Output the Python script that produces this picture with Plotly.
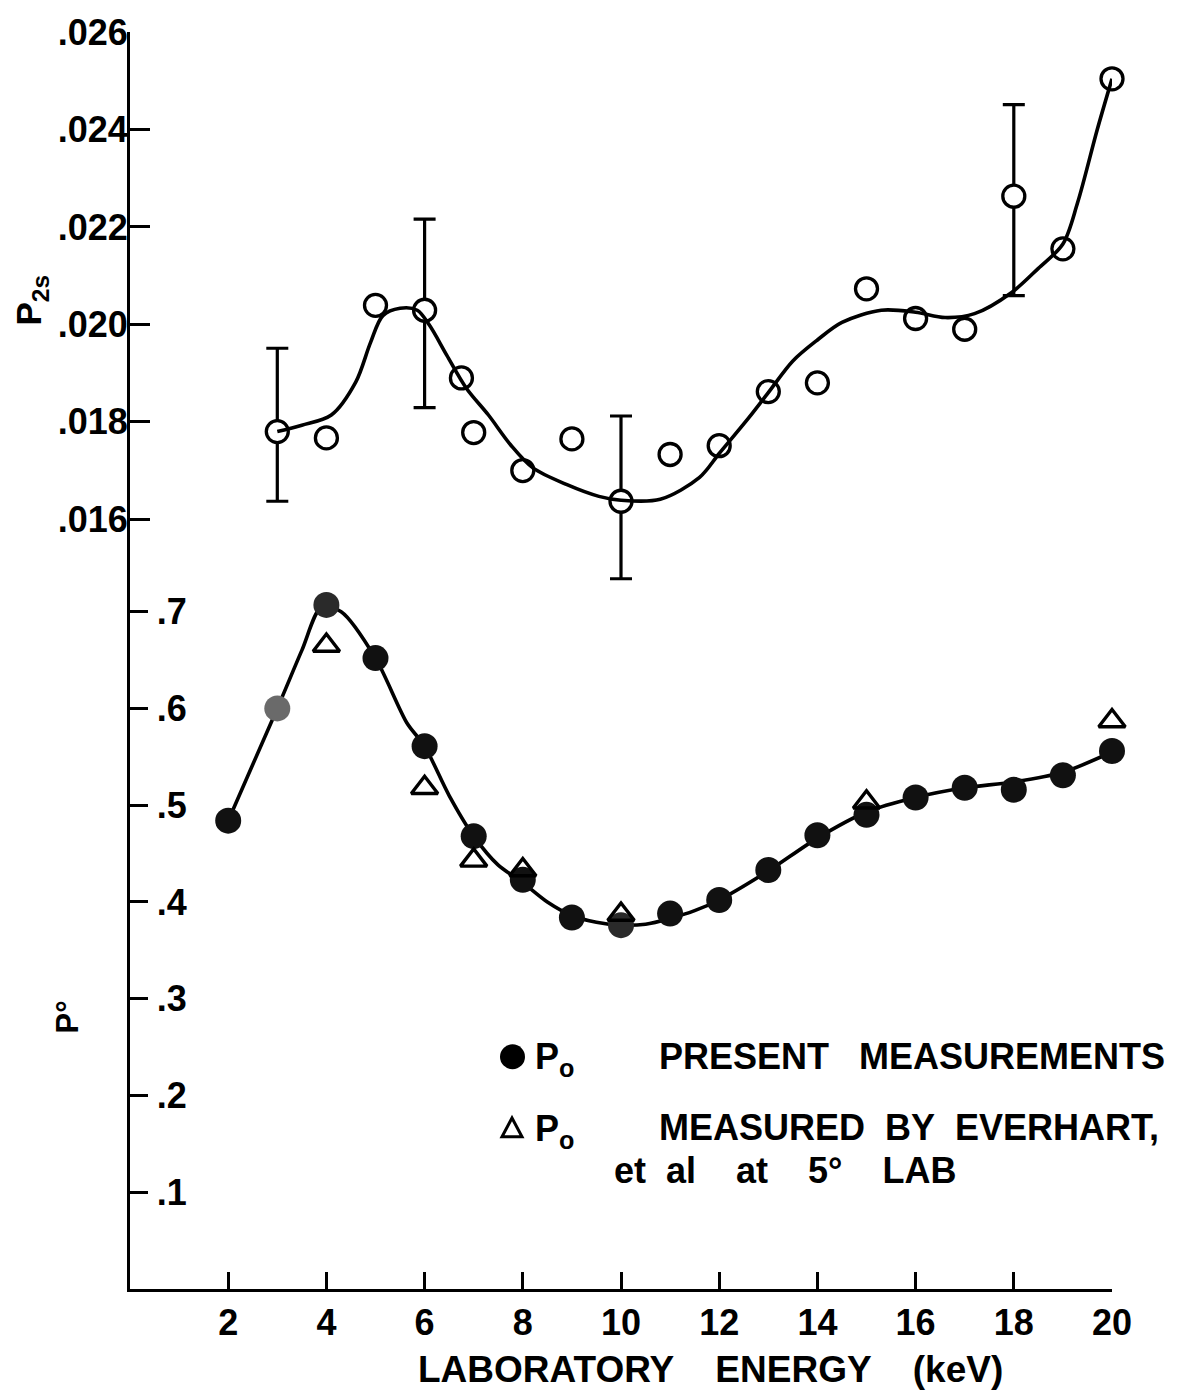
import plotly.graph_objects as go

# ---------------- data ----------------
# Upper panel: P2s, open circles
p2s_energy = [3, 4, 5, 6, 6.75, 7, 8, 9, 10, 11, 12, 13, 14, 15, 16, 17, 18, 19, 20]
p2s_value = [0.01780, 0.01767, 0.02039, 0.02029, 0.01890, 0.01778, 0.01700, 0.01765,
             0.01637, 0.01733, 0.01751, 0.01862, 0.01880, 0.02073, 0.02012, 0.01990,
             0.02263, 0.02155, 0.02504]
# error bars (only on a few points)
p2s_err_plus = [0.00171, None, None, 0.00187, None, None, None, None, 0.00175, None,
                None, None, None, None, None, None, 0.00188, None, None]
p2s_err_minus = [0.00143, None, None, 0.00200, None, None, None, None, 0.00159, None,
                 None, None, None, None, None, None, 0.00204, None, None]

# Upper smooth curve
p2s_fit_energy = [3.0, 3.5, 4.1, 4.6, 4.9, 5.15, 5.5, 5.85, 6.1, 6.45, 6.85, 7.3, 7.75,
                  8.2, 8.9, 9.55, 10.0, 10.8, 11.6, 12.0, 12.6, 13.0, 13.5, 14.0, 14.5,
                  15.3, 16.0, 16.6, 17.2, 17.95, 18.5, 19.0, 19.3, 19.7, 20.0]
p2s_fit_value = [0.01780, 0.01793, 0.01814, 0.01882, 0.01963, 0.02018, 0.02033, 0.02029,
                 0.01998, 0.01937, 0.01869, 0.01814, 0.01753, 0.01706, 0.01671, 0.01647,
                 0.01639, 0.01641, 0.01686, 0.01735, 0.01808, 0.01860, 0.01925, 0.01968,
                 0.02004, 0.02029, 0.02025, 0.02014, 0.02022, 0.02065, 0.02115, 0.02165,
                 0.02250, 0.02400, 0.02504]

# Lower panel: Po present measurements (filled circles)
p0_energy = [2, 3, 4, 5, 6, 7, 8, 9, 10, 11, 12, 13, 14, 15, 16, 17, 18, 19, 20]
p0_value = [0.484, 0.600, 0.707, 0.652, 0.561, 0.468, 0.423, 0.384, 0.376, 0.388,
            0.402, 0.433, 0.469, 0.490, 0.508, 0.518, 0.516, 0.531, 0.556]
p0_colors = ["#111", "#6a6a6a", "#2a2a2a", "#111", "#111", "#111", "#111", "#111",
             "#2a2a2a", "#111", "#111", "#111", "#111", "#111", "#111", "#111", "#111",
             "#111", "#111"]

# Po measured by Everhart et al (open triangles)
ev_energy = [4, 6, 7, 8, 10, 15, 20]
ev_value = [0.665, 0.518, 0.443, 0.433, 0.387, 0.503, 0.587]

# Lower smooth curve
p0_fit_energy = [2.0, 3.0, 3.5, 3.9, 4.3, 5.0, 5.64, 6.0, 6.5, 7.0, 7.5, 8.0, 8.5, 9.0,
                 9.5, 10.0, 10.5, 11.0, 11.5, 12.0, 13.0, 14.0, 15.0, 16.0, 17.0, 18.0,
                 19.0, 20.0]
p0_fit_value = [0.484, 0.600, 0.660, 0.705, 0.700, 0.652, 0.585, 0.561, 0.510, 0.468,
                0.438, 0.420, 0.400, 0.386, 0.379, 0.376, 0.377, 0.383, 0.391, 0.402,
                0.432, 0.466, 0.493, 0.508, 0.518, 0.524, 0.534, 0.555]

# Tick definitions
x_ticks = [2, 4, 6, 8, 10, 12, 14, 16, 18, 20]
x_ticktext = ["2", "4", "6", "8", "10", "12", "14", "16", "18", "20"]
p2s_ticks = [0.016, 0.018, 0.020, 0.022, 0.024, 0.026]
p2s_ticktext = [".016", ".018", ".020", ".022", ".024", ".026"]
p0_ticks = [0.1, 0.2, 0.3, 0.4, 0.5, 0.6, 0.7]
p0_ticktext = [".1", ".2", ".3", ".4", ".5", ".6", ".7"]

# ---------------- figure ----------------
W, H = 1185, 1391
ML, MR, MT, MB = 130, 73, 25, 102
PW, PH = W - ML - MR, H - MT - MB
SPLIT_PX = 585                      # pixel row where the two y-axes meet
split = (H - MB - SPLIT_PX) / PH
PX_PER_P0 = 973.0                   # pixels per unit of Po
PX_PER_P2S = 49000.0                # pixels per unit of P2s
p0_top = (H - MB - SPLIT_PX) / PX_PER_P0
p2s_bottom = 0.026 - (SPLIT_PX - MT) / PX_PER_P2S

FONT = "Liberation Sans"
INK = "black"
LW = 3.6


def xp(px):
    return (px - ML) / PW


def yp(py):
    return (H - MB - py) / PH


fig = go.Figure()

# error bars (upper)
eb_idx = [i for i, v in enumerate(p2s_err_plus) if v is not None]
fig.add_trace(go.Scatter(
    x=[p2s_energy[i] for i in eb_idx], y=[p2s_value[i] for i in eb_idx],
    yaxis="y2", mode="markers", marker=dict(size=2, opacity=0),
    error_y=dict(type="data", symmetric=False,
                 array=[p2s_err_plus[i] for i in eb_idx],
                 arrayminus=[p2s_err_minus[i] for i in eb_idx],
                 color=INK, thickness=3.2, width=11),
    cliponaxis=False, hoverinfo="skip", showlegend=False))

# open circles (upper)
fig.add_trace(go.Scatter(
    x=p2s_energy, y=p2s_value, yaxis="y2", mode="markers",
    marker=dict(symbol="circle", size=22, color="white", line=dict(width=3.3, color=INK)),
    cliponaxis=False, showlegend=False))

# upper curve
fig.add_trace(go.Scatter(
    x=p2s_fit_energy, y=p2s_fit_value, yaxis="y2", mode="lines",
    line=dict(shape="spline", smoothing=0.9, width=LW, color=INK),
    cliponaxis=False, showlegend=False))

# lower curve
fig.add_trace(go.Scatter(
    x=p0_fit_energy, y=p0_fit_value, yaxis="y", mode="lines",
    line=dict(shape="spline", smoothing=0.8, width=LW, color=INK),
    cliponaxis=False, showlegend=False))

# filled circles (lower)
fig.add_trace(go.Scatter(
    x=p0_energy, y=p0_value, yaxis="y", mode="markers",
    marker=dict(symbol="circle", size=26, color=p0_colors, line=dict(width=0)),
    cliponaxis=False, name="PRESENT MEASUREMENTS", showlegend=False))

# open triangles (lower)
fig.add_trace(go.Scatter(
    x=ev_energy, y=ev_value, yaxis="y", mode="markers",
    marker=dict(symbol="triangle-up-open", size=23, color=INK, line=dict(width=3.4, color=INK)),
    cliponaxis=False, name="MEASURED BY EVERHART", showlegend=False))

tickfont = dict(family=FONT, size=36, color=INK, weight="bold")

fig.update_layout(
    width=W, height=H,
    margin=dict(l=ML, r=MR, t=MT, b=MB),
    plot_bgcolor="white", paper_bgcolor="white",
    showlegend=False,
    font=dict(family=FONT, color=INK),
    xaxis=dict(range=[0, 20], tickmode="array", tickvals=x_ticks, ticktext=x_ticktext,
               ticks="inside", ticklen=17, tickwidth=3, tickcolor=INK,
               showline=True, linewidth=3, linecolor=INK, showgrid=False, zeroline=False,
               tickfont=tickfont, anchor="y", ticklabelstandoff=0),
    yaxis=dict(domain=[0, split], range=[0, p0_top], tickmode="array",
               tickvals=p0_ticks, ticktext=p0_ticktext,
               ticks="inside", ticklen=18, tickwidth=3, tickcolor=INK,
               ticklabelposition="inside", ticklabelstandoff=13,
               showline=True, linewidth=3, linecolor=INK, showgrid=False, zeroline=False,
               tickfont=tickfont, anchor="x"),
    yaxis2=dict(domain=[split, 1], range=[p2s_bottom, 0.026], tickmode="array",
                tickvals=p2s_ticks, ticktext=p2s_ticktext,
                ticks="inside", ticklen=20, tickwidth=3, tickcolor=INK,
                ticklabelstandoff=-8,
                showline=True, linewidth=3, linecolor=INK, showgrid=False, zeroline=False,
                tickfont=tickfont, anchor="x"),
)

ann_font = dict(family=FONT, size=36, color=INK, weight="bold")
NB = "\u00a0"
annotations = [
    dict(text=f"LABORATORY{NB*4}ENERGY{NB*4}(keV)", x=xp(710), y=yp(1370),
         font=dict(family=FONT, size=37, color=INK, weight="bold")),
    dict(text="P<sub>2s</sub>", x=xp(31), y=yp(295), textangle=-90,
         font=dict(family=FONT, size=35, color=INK, weight="bold")),
    dict(text="P°", x=xp(68), y=yp(1016), textangle=-90,
         font=dict(family=FONT, size=31, color=INK, weight="bold")),
    dict(text="P<sub>o</sub>", x=xp(533), y=yp(1058), xanchor="left", font=ann_font),
    dict(text=f"PRESENT{NB*3}MEASUREMENTS", x=xp(657), y=yp(1055), xanchor="left",
         font=ann_font),
    dict(text="P<sub>o</sub>", x=xp(533), y=yp(1130), xanchor="left", font=ann_font),
    dict(text=f"MEASURED{NB*2}BY{NB*2}EVERHART,", x=xp(657), y=yp(1127), xanchor="left",
         font=ann_font),
    dict(text=f"et{NB*2}al{NB*4}at{NB*4}5°{NB*4}LAB", x=xp(612), y=yp(1170),
         xanchor="left", font=ann_font),
]
for a in annotations:
    a.update(xref="paper", yref="paper", showarrow=False, yanchor="middle")
    a.setdefault("xanchor", "center")
fig.update_layout(annotations=annotations)

# legend keys
fig.add_shape(type="circle", xref="paper", yref="paper",
              x0=xp(500), x1=xp(525), y0=yp(1068), y1=yp(1043),
              fillcolor=INK, line=dict(width=0))
tri = f"M {xp(502)},{yp(1136)} L {xp(522)},{yp(1136)} L {xp(512)},{yp(1117)} Z"
fig.add_shape(type="path", xref="paper", yref="paper", path=tri,
              line=dict(width=3, color=INK), fillcolor="rgba(0,0,0,0)")

fig.write_html("out.html")
